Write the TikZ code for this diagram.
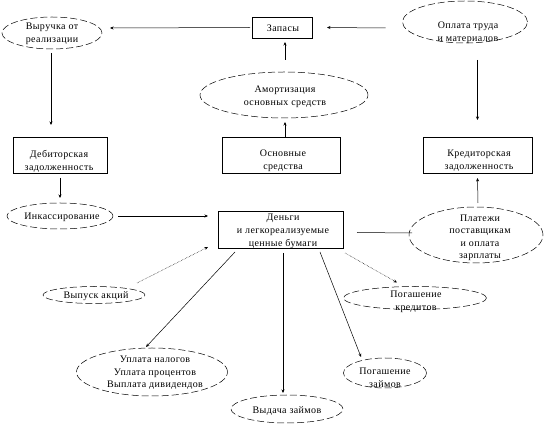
\documentclass[tikz,border=0pt]{standalone}
\usepackage{fontspec}
\setmainfont{Liberation Serif}[LetterSpace=4]
\usetikzlibrary{shapes.geometric,calc,arrows.meta}
\begin{document}
\begin{tikzpicture}[x=1pt,y=-1pt,
  box/.style={draw,line width=0.6pt,rectangle,inner sep=0pt,outer sep=0pt},
  oval/.style={draw,line width=0.5pt,ellipse,dash pattern=on 7pt off 3pt,inner sep=0pt,outer sep=0pt},
  txt/.style={align=center,inner sep=0pt,font=\fontsize{10}{13}\selectfont},
  arr/.style={line width=0.5pt,-{Stealth[length=3.5pt,width=3pt]}},
  darr/.style={arr,densely dotted},
  ln/.style={line width=0.5pt}]
\useasboundingbox (0,0) rectangle (547,427);
% rectangles
\node[box,minimum width=60,minimum height=21] (zap) at (282,27.5) {};
\node[txt] (zapt) at (283,28) {Запасы};
\node[box,minimum width=118,minimum height=36] (osn) at (281,155) {};
\node[txt] (osnt) at (283,161) {Основные\\средства};
\node[box,minimum width=94,minimum height=36] (deb) at (60,155) {};
\node[txt] (debt) at (59,161) {Дебиторская\\задолженность};
\node[box,minimum width=109,minimum height=36] (kre) at (477.5,155) {};
\node[txt] (kret) at (479,161) {Кредиторская\\задолженность};
\node[box,minimum width=125,minimum height=37] (den) at (280.5,229.5) {};
\node[txt] (dent) at (283,231) {Деньги\\и легкореализуемые\\ценные бумаги};
% ellipses
\node[oval,minimum width=100,minimum height=32] (vyr) at (52,33) {};
\node[txt] (vyrt) at (52,34) {Выручка от\\реализации};
\node[oval,minimum width=125,minimum height=42] (opl) at (465,22) {};
\node[txt] (oplt) at (468,33) {Оплата труда\\и материалов};
\node[oval,minimum width=168,minimum height=46] (amo) at (284,95) {};
\node[txt] (amot) at (285,97) {Амортизация\\основных средств};
\node[oval,minimum width=106,minimum height=26] (ink) at (60,216) {};
\node[txt] (inkt) at (62,217) {Инкассирование};
\node[oval,minimum width=134,minimum height=56] (pla) at (476,235) {};
\node[txt,font=\fontsize{10}{12.5}\selectfont] (plat) at (480,238) {Платежи\\поставщикам\\и оплата\\зарплаты};
\node[oval,minimum width=102,minimum height=17] (vyp) at (94,295) {};
\node[txt] (vypt) at (96,296) {Выпуск акций};
\node[oval,minimum width=151,minimum height=48] (upl) at (152,372) {};
\node[txt,font=\fontsize{10}{12.5}\selectfont] (uplt) at (155,373) {Уплата налогов\\Уплата процентов\\Выплата дивидендов};
\node[oval,minimum width=112,minimum height=28] (vyd) at (287,409) {};
\node[txt] (vydt) at (287,411) {Выдача займов};
\node[oval,minimum width=83,minimum height=30] (pzm) at (385,373) {};
\node[txt] (pzmt) at (385,378) {Погашение\\займов};
\node[oval,minimum width=143,minimum height=23] (pkr) at (415,298) {};
\node[txt] (pkrt) at (416,302) {Погашение\\кредитов};
% connectors
\draw[arr] ($(zap.west)+(-2,0)$) -- ($(vyr.east)+(8,-5)$);
\draw[arr] ($(opl.west)+(-17,6)$) -- ($(zap.east)+(15,0)$);
\draw[arr] ($(opl.south -| kre.north)+(0,17)$) -- ($(kre.north)+(0,-17)$);
\draw[arr] ($(amo.north)+(1,-12)$) -- ($(zap.south)+(3,4)$);
\draw[arr] ($(osn.north)+(4,0)$) -- ($(amo.south)+(1,4)$);
\draw[arr] ($(vyr.south)+(-1,4)$) -- ($(deb.north)+(-9,-12)$);
\draw[arr] ($(deb.south)+(0,5)$) -- ($(ink.north)+(0,-5)$);
\draw[arr] ($(ink.east)+(5,0)$) -- ($(den.west |- ink.east)+(-10,0)$);
\draw[ln] ($(den.east)+(14,3)$) -- ($(pla.west)+(3,-2)$);
\draw[arr] ($(pla.north)+(2,-4)$) -- ($(kre.south)+(0,5)$);
\draw[darr] ($(vyp.center)+(43,-12)$) -- ($(den.south west)+(-10,-1)$);
\draw[arr] ($(den.south west)+(17,4)$) -- ($(upl.north)+(-6,-1)$);
\draw[arr] ($(den.south)+(2.5,5)$) -- ($(vyd.north)+(-4,-2)$);
\draw[arr] ($(den.south)+(39.5,4)$) -- ($(pzm.north)+(-24,-1)$);
\draw[darr] ($(den.south east)+(2,5)$) -- ($(pkr.north)+(-18,-4)$);
\end{tikzpicture}
\end{document}
